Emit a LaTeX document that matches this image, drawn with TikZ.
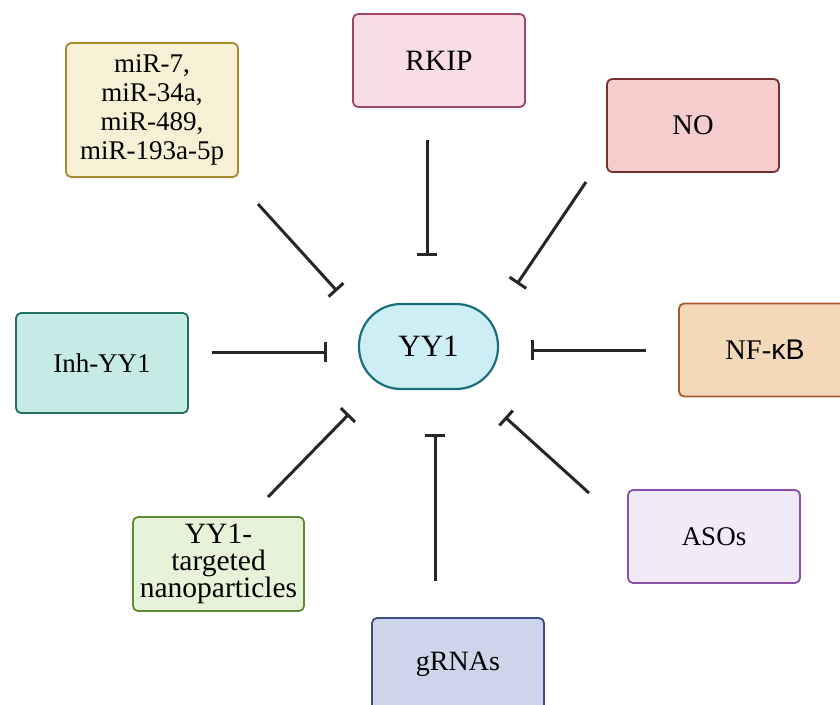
\documentclass[tikz,border=0pt]{standalone}
\usepackage{fontspec}
\setmainfont{Liberation Serif}
\setsansfont{Liberation Sans}
\usetikzlibrary{arrows.meta}

\definecolor{yyfill}{HTML}{CDEEF5}   \definecolor{yydraw}{HTML}{1B6E7C}
\definecolor{rkfill}{HTML}{F8DCE6}   \definecolor{rkdraw}{HTML}{A0456A}
\definecolor{mifill}{HTML}{F6F0D4}   \definecolor{midraw}{HTML}{A88A2E}
\definecolor{nofill}{HTML}{F5CDCD}   \definecolor{nodraw}{HTML}{7A3030}
\definecolor{ihfill}{HTML}{C6EBE6}   \definecolor{ihdraw}{HTML}{1F7060}
\definecolor{nffill}{HTML}{F3D9BA}   \definecolor{nfdraw}{HTML}{A8582A}
\definecolor{npfill}{HTML}{E6F3D8}   \definecolor{npdraw}{HTML}{5A8A30}
\definecolor{asfill}{HTML}{F1EAF9}   \definecolor{asdraw}{HTML}{8A4FA8}
\definecolor{grfill}{HTML}{CDD5EA}   \definecolor{grdraw}{HTML}{3A4F80}

\newcommand\tightlines{\lineskiplimit=-20pt\relax}

\begin{document}
\begin{tikzpicture}[x=1pt,y=-1pt,
    box/.style={rectangle,rounded corners=5pt,draw,line width=1.8pt,
                minimum width=172pt,minimum height=93pt,align=center,
                font=\fontsize{27}{29}\selectfont},
    inh/.style={-{Bar[width=20pt,line width=3pt]},line width=3pt,color=black!85}]

  \useasboundingbox (0,0) rectangle (840,704);

  % target in the middle
  \node[rectangle,rounded corners=42pt,draw=yydraw,fill=yyfill,line width=2.2pt,
        minimum width=139pt,minimum height=85pt,font=\fontsize{31}{33}\selectfont]
        (yy1) at (428.5,346.5) {YY1};

  % regulators and inhibitors
  \node[box,draw=rkdraw,fill=rkfill,font=\fontsize{29.5}{31}\selectfont]
        (rkip) at (439,60.5) {RKIP};
  \node[box,draw=midraw,fill=mifill,minimum height=134pt] (mir) at (152,110)
        {miR-7,\\miR-34a,\\miR-489,\\miR-193a-5p};
  \node[box,draw=nodraw,fill=nofill,font=\fontsize{28.5}{30}\selectfont]
        (no) at (693,125.5) {NO};
  \node[box,draw=ihdraw,fill=ihfill,minimum height=100pt] (inh) at (102,363) {Inh-YY1};
  \node[box,draw=nfdraw,fill=nffill,font=\fontsize{28.5}{30}\selectfont]
        (nfkb) at (765,350) {NF-{\sffamily κB}};
  \node[box,draw=npdraw,fill=npfill,minimum width=171pt,minimum height=94pt,
        inner ysep=0pt,font={\fontsize{29.5}{27}\selectfont\tightlines}]
        (nano) at (218.5,564) {YY1-\\targeted\\nanoparticles};
  \node[box,draw=asdraw,fill=asfill] (asos) at (714,536.5) {ASOs};
  \node[box,draw=grdraw,fill=grfill,font=\fontsize{28}{30}\selectfont]
        (grna) at (458,664.5) {gRNAs};

  % line ends
  \coordinate (rkip-s) at (427,140);  \coordinate (rkip-e) at (427,256);
  \coordinate (mir-s)  at (258,204);  \coordinate (mir-e)  at (337,291);
  \coordinate (no-s)   at (586,182);  \coordinate (no-e)   at (517,284);
  \coordinate (inh-s)  at (212,352);  \coordinate (inh-e)  at (327,352);
  \coordinate (nfkb-s) at (646,350);  \coordinate (nfkb-e) at (531,350);
  \coordinate (nano-s) at (268,497);  \coordinate (nano-e) at (349,414);
  \coordinate (grna-s) at (435,581);  \coordinate (grna-e) at (435,434);
  \coordinate (asos-s) at (589,493);  \coordinate (asos-e) at (505,417);

  \path[inh]
    (rkip-s) edge (rkip-e)
    (mir-s)  edge (mir-e)
    (no-s)   edge (no-e)
    (inh-s)  edge (inh-e)
    (nfkb-s) edge (nfkb-e)
    (nano-s) edge (nano-e)
    (grna-s) edge (grna-e)
    (asos-s) edge (asos-e);

\end{tikzpicture}
\end{document}
